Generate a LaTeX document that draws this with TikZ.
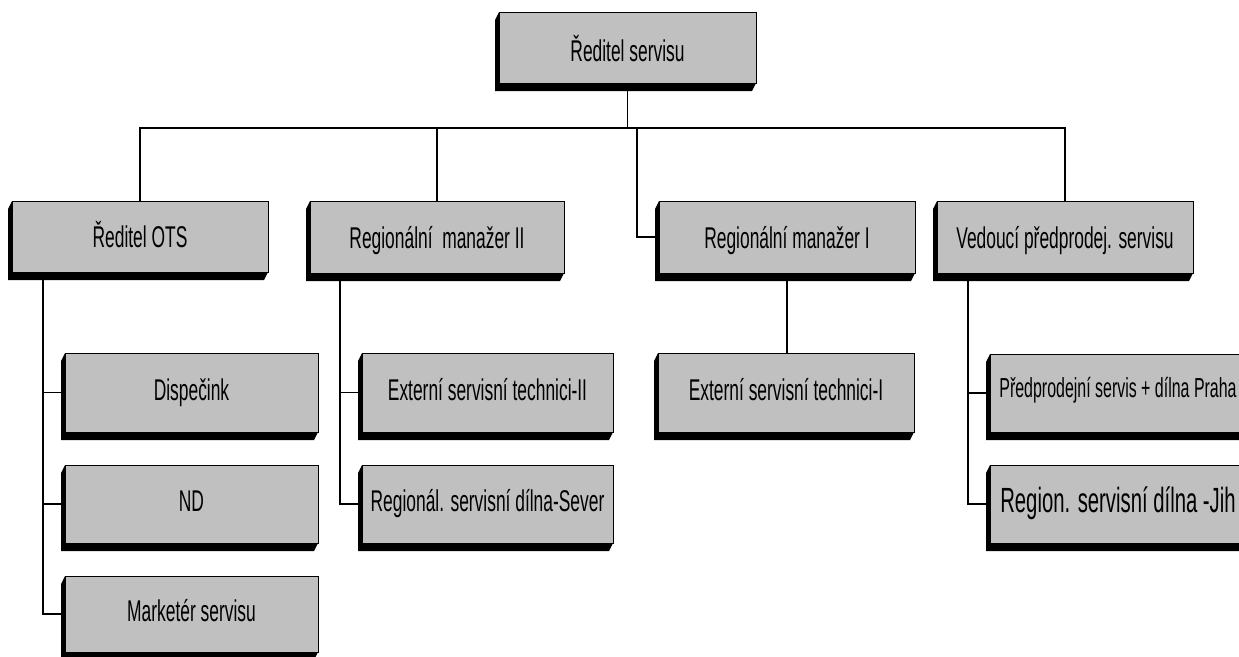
\documentclass[tikz,border=0pt]{standalone}
\usepackage{fontspec}
\setmainfont[FakeStretch=0.58]{Liberation Sans}
\usetikzlibrary{calc}
\definecolor{boxgrey}{HTML}{C0C0C0}

% black extrusion along the left and bottom edge of a box
\newcommand\dropshade[1]{%
  \fill[black] (#1.north west) -- ++(-4,8)
    -- ($(#1.south west)+(-4,8)$) -- ($(#1.south east)+(-4,8)$)
    -- (#1.south east) -- (#1.south west) -- cycle;}

\begin{document}
\begin{tikzpicture}[x=1pt,y=-1pt,
  unit/.style={draw=black, line width=0.8pt, fill=boxgrey, outer sep=0pt,
    inner sep=0pt, align=center, text height=21.5pt, text depth=6.5pt,
    font=\fontsize{30}{32}\selectfont},
  head/.style={unit, text height=27pt, text depth=0pt},
  mid/.style={unit, text height=22pt, text depth=0pt},
  link/.style={draw=black, line width=1.4pt}]
\useasboundingbox (0,0) rectangle (1239,656);
\clip (0,0) rectangle (1239,656);

% boxes
\node[head, minimum width=257pt, minimum height=71pt] (dir) at (627.5,47.5) {Ředitel servisu};

\node[mid, minimum width=256pt, minimum height=71pt] (ots) at (140,236.5) {Ředitel OTS};
\node[mid, minimum width=254pt, minimum height=72pt] (rm2) at (437,237) {Regionální\ \ manažer II};
\node[mid, minimum width=256pt, minimum height=72pt] (rm1) at (787,237) {Regionální manažer I};
\node[mid, minimum width=256pt, minimum height=72pt] (ved) at (1065,237) {Vedoucí předprodej. servisu};

\node[unit, minimum width=253pt, minimum height=79pt] (disp) at (191.5,392.5) {Dispečink};
\node[unit, minimum width=253pt, minimum height=78pt] (nd) at (191.5,504) {ND};
\node[unit, minimum width=253pt, minimum height=76pt] (mkt) at (191.5,614) {Marketér servisu};

\node[unit, minimum width=251pt, minimum height=79pt] (ext2) at (487.5,392.5) {Externí servisní technici-II};
\node[unit, minimum width=251pt, minimum height=78pt] (sever) at (487.5,504) {Regionál. servisní dílna-Sever};

\node[unit, minimum width=256pt, minimum height=79pt] (ext1) at (786,392.5) {Externí servisní technici-I};

\node[unit, minimum width=256pt, minimum height=78pt, font=\fontsize{27.5}{30}\selectfont,
  text height=20pt, text depth=12pt] (pred) at (1118,393) {Předprodejní servis + dílna Praha};
\node[unit, minimum width=256pt, minimum height=78pt, font=\fontsize{35}{38}\selectfont,
  text height=25pt, text depth=9pt] (jih) at (1118,504) {Region. servisní dílna -Jih};

\foreach \b in {dir,ots,rm2,rm1,ved,disp,nd,mkt,ext2,sever,ext1,pred,jih}{\dropshade{\b}}

% connectors
\draw[link] (dir.south) -- ++(0,45) coordinate (bus);
\draw[link] (ots.north) |- (bus) -| (ved.north);
\draw[link] (rm2.north) -- (rm2.north |- bus);
\coordinate (rm1drop) at (637,128);
\draw[link] (rm1drop) |- (rm1.west);

\draw[link] ([xshift=31pt]ots.south west) |- (disp.west);
\draw[link] ([xshift=31pt]ots.south west) |- (nd.west);
\draw[link] ([xshift=31pt]ots.south west) |- (mkt.west);

\draw[link] ([xshift=30pt]rm2.south west) |- (ext2.west);
\draw[link] ([xshift=30pt]rm2.south west) |- (sever.west);

\draw[link] (rm1.south) -- (rm1.south |- ext1.north);

\draw[link] ([xshift=31pt]ved.south west) |- (pred.west);
\draw[link] ([xshift=31pt]ved.south west) |- (jih.west);
\end{tikzpicture}
\end{document}
